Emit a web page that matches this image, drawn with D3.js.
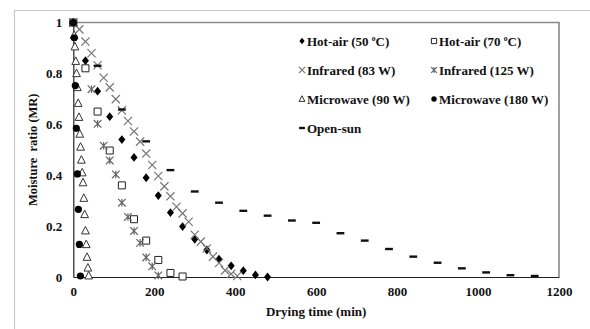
<!DOCTYPE html>
<html><head><meta charset="utf-8">
<script src="https://cdn.jsdelivr.net/npm/d3@7"></script>
<style>
html,body{margin:0;padding:0;background:#fff;}
svg{display:block;}
text{font-family:"Liberation Serif","Times New Roman",serif;font-weight:bold;fill:#111;}
</style></head>
<body>
<svg id="chart" width="590" height="329"></svg>
<script>
// ---- data ----
const xTickLabels = [0, 200, 400, 600, 800, 1000, 1200];
const yTickLabels = [0, 0.2, 0.4, 0.6, 0.8, 1];

const hotAir50Time = [0,30,60,90,120,150,180,210,240,270,300,330,360,390,420,450,480];
const hotAir50MR   = [1,0.85,0.73,0.63,0.54,0.47,0.39,0.32,0.253,0.198,0.148,0.106,0.07,0.044,0.025,0.008,0];

const hotAir70Time = [0,30,60,90,120,150,180,210,240,270];
const hotAir70MR   = [1,0.82,0.65,0.497,0.36,0.227,0.143,0.067,0.016,0.002];

const infrared83Time = [0,15,30,45,60,75,90,105,120,135,150,165,180,195,210,225,240,255,270,285,300,315,330,345,360,375,390,405];
const infrared83MR   = [1,0.973,0.925,0.879,0.832,0.783,0.745,0.699,0.655,0.613,0.572,0.532,0.485,0.44,0.397,0.356,0.317,0.276,0.25,0.217,0.166,0.139,0.112,0.08,0.055,0.026,0.012,0.004];

const infrared125Time = [0,45,60,75,90,105,120,135,150,165,180,195,210];
const infrared125MR   = [1,0.738,0.602,0.516,0.458,0.403,0.292,0.236,0.181,0.134,0.077,0.042,0.006];

const microwave90Time = [0,2,4,6,8,10,12,14,16,18,20,22,24,26,28,30,32,34,36,38];
const microwave90MR   = [1,0.95,0.905,0.848,0.80,0.745,0.683,0.628,0.562,0.511,0.46,0.41,0.371,0.31,0.246,0.182,0.128,0.078,0.036,0.005];

const microwave180Time = [0,2.5,5,7.5,10,12.5,15,17.5];
const microwave180MR   = [1,0.94,0.752,0.584,0.405,0.266,0.128,0.004];

const openSunTime = [0,60,120,180,240,300,360,420,480,540,600,660,720,780,840,900,960,1020,1080,1140];
const openSunMR   = [1,0.83,0.658,0.533,0.42,0.336,0.292,0.26,0.241,0.222,0.213,0.172,0.143,0.11,0.08,0.056,0.034,0.018,0.007,0.004];

const seriesNames = ["Hot-air (50 ", "Hot-air (70 ", "Infrared (83 W)", "Infrared (125 W)", "Microwave (90 W)", "Microwave (180 W)", "Open-sun"];

// ---- custom marker shapes ----
const shapes = {
  diamond: {draw(c, s){ const r=s; c.moveTo(0,-r); c.lineTo(r*0.8,0); c.lineTo(0,r); c.lineTo(-r*0.8,0); c.closePath(); }},
  square:  {draw(c, s){ const r=s; c.moveTo(-r,-r); c.lineTo(r,-r); c.lineTo(r,r); c.lineTo(-r,r); c.closePath(); }},
  times:   {draw(c, s){ const r=s; c.moveTo(-r,-r); c.lineTo(r,r); c.moveTo(r,-r); c.lineTo(-r,r); }},
  star:    {draw(c, s){ const r=s; c.moveTo(-r,-r); c.lineTo(r,r); c.moveTo(r,-r); c.lineTo(-r,r); c.moveTo(0,-r); c.lineTo(0,r); }},
  triangle:{draw(c, s){ const r=s; c.moveTo(0,-r); c.lineTo(r*0.9,r*0.75); c.lineTo(-r*0.9,r*0.75); c.closePath(); }},
  circle:  {draw(c, s){ c.moveTo(s,0); c.arc(0,0,s,0,2*Math.PI); }},
  dash:    {draw(c, s){ c.moveTo(-s,-1.2); c.lineTo(s,-1.2); c.lineTo(s,1.2); c.lineTo(-s,1.2); c.closePath(); }}
};

const series = [
  {name: seriesNames[0], deg: true, t: hotAir50Time, v: hotAir50MR, shape: "diamond", size: 4.4, fill: "#000", stroke: "none", sw: 0},
  {name: seriesNames[1], deg: true, t: hotAir70Time, v: hotAir70MR, shape: "square", size: 3.5, fill: "#fff", stroke: "#222", sw: 1},
  {name: seriesNames[2], t: infrared83Time, v: infrared83MR, shape: "times", size: 4.1, fill: "none", stroke: "#777", sw: 1.2},
  {name: seriesNames[3], t: infrared125Time, v: infrared125MR, shape: "star", size: 3.8, fill: "none", stroke: "#666", sw: 1.2},
  {name: seriesNames[4], t: microwave90Time, v: microwave90MR, shape: "triangle", size: 4.3, fill: "#fff", stroke: "#333", sw: 1},
  {name: seriesNames[5], t: microwave180Time, v: microwave180MR, shape: "circle", size: 3.6, fill: "#000", stroke: "none", sw: 0},
  {name: seriesNames[6], t: openSunTime, v: openSunMR, shape: "dash", size: 3.9, fill: "#111", stroke: "none", sw: 0}
];

// ---- layout ----
const svg = d3.select("#chart");
const L = 73.3, R = 559, T = 22.5, B = 277;
const x = d3.scaleLinear().domain([0, 1200]).range([L, R]);
const y = d3.scaleLinear().domain([0, 1]).range([B, T]);

// outer frame (top + left only)
svg.append("line").attr("x1", 14).attr("x2", 590).attr("y1", 10.5).attr("y2", 10.5).attr("stroke", "#c8c8c8").attr("stroke-width", 1.2);
svg.append("line").attr("x1", 14.5).attr("x2", 14.5).attr("y1", 10).attr("y2", 329).attr("stroke", "#c8c8c8").attr("stroke-width", 1.2);

// plot-area border top & right
svg.append("path").attr("d", `M${L},${T}H${R}V${B}`).attr("fill", "none").attr("stroke", "#8a8a8a").attr("stroke-width", 1.6);

// axes
const fmt = d => String(+(+d).toFixed(1));
const xAxis = svg.append("g").attr("transform", `translate(0,${B})`)
  .call(d3.axisBottom(x).tickValues(xTickLabels).tickSize(0).tickPadding(10).tickFormat(fmt));
const yAxis = svg.append("g").attr("transform", `translate(${L},0)`)
  .call(d3.axisLeft(y).tickValues(yTickLabels).tickSize(0).tickPadding(11).tickFormat(fmt));
[xAxis, yAxis].forEach(a => {
  a.select(".domain").attr("stroke", "#222").attr("stroke-width", 1.2);
  a.selectAll("text").attr("font-size", 13).attr("font-family", "Liberation Serif").attr("font-weight", "bold").attr("fill", "#111");
});

// axis titles
svg.append("text").attr("x", (L + R) / 2).attr("y", 316).attr("text-anchor", "middle")
  .attr("font-size", 13).text("Drying time (min)");
svg.append("text").attr("transform", `translate(37,${(T + B) / 2}) rotate(-90)`).attr("text-anchor", "middle")
  .attr("font-size", 12.5).style("white-space", "pre").text("Moisture  ratio (MR)");

// markers
series.forEach(s => {
  const sym = d3.symbol().type(shapes[s.shape]).size(s.size);
  svg.append("g").selectAll("path").data(s.t.map((t, i) => [t, s.v[i]])).join("path")
    .attr("transform", d => `translate(${x(d[0])},${y(d[1])})`)
    .attr("d", sym)
    .attr("fill", s.fill).attr("stroke", s.stroke).attr("stroke-width", s.sw);
});

// legend
const legendPos = [[302, 41], [434, 41], [302, 70], [434, 70], [302, 99], [434, 99], [302, 128]];
series.forEach((s, i) => {
  const [lx, ly] = legendPos[i];
  const sym = d3.symbol().type(shapes[s.shape]).size(s.size * 0.75);
  svg.append("path").attr("transform", `translate(${lx},${ly})`).attr("d", sym)
    .attr("fill", s.fill).attr("stroke", s.stroke).attr("stroke-width", s.sw);
  const tx = svg.append("text").attr("x", lx + 5).attr("y", ly + 4.5).attr("font-size", 13).style("white-space", "pre");
  if (s.deg) {
    tx.append("tspan").text(s.name);
    tx.append("tspan").attr("font-size", 7.5).attr("dy", -5).text("o");
    tx.append("tspan").attr("dy", 5).text("C)");
  } else {
    tx.text(s.name);
  }
});
</script>
</body></html>
